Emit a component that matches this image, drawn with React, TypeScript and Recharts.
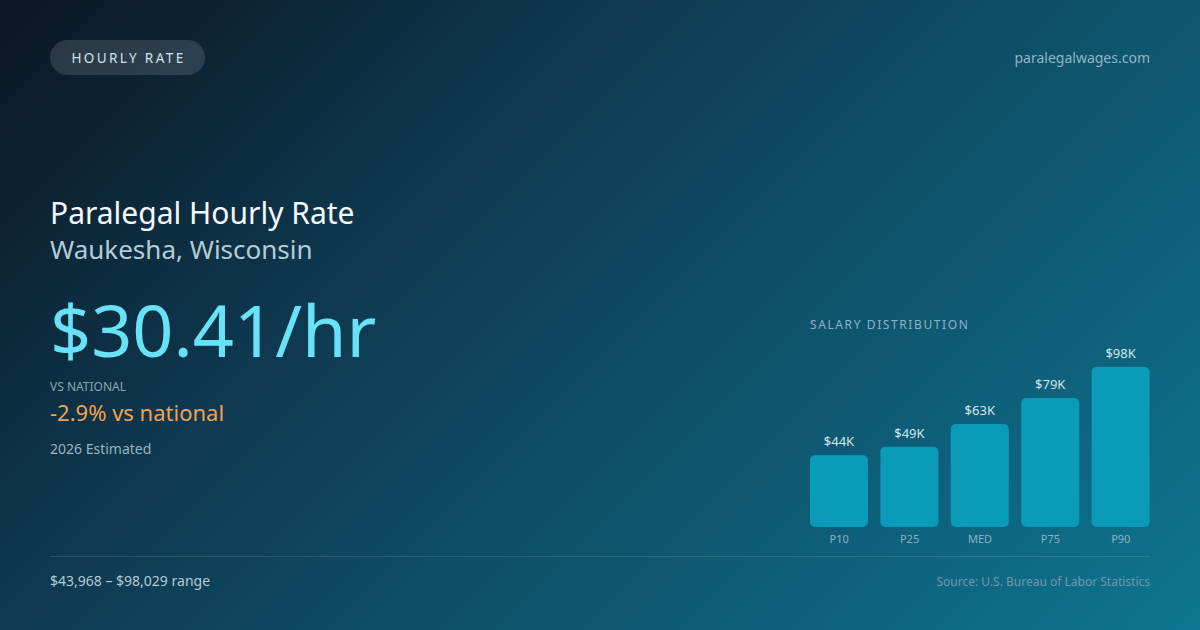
import React from "react";
import { BarChart, Bar, XAxis, YAxis, LabelList } from "recharts";

const percentiles = ["P10", "P25", "MED", "P75", "P90"];
const salaries = [43968, 49200, 63100, 79000, 98029];

const chartData = percentiles.map((p, i) => ({ name: p, value: salaries[i] }));

const FONT = "'Noto Sans', 'Open Sans', sans-serif";

const formatK = (v: number) => `$${Math.round(v / 1000)}K`;

function Text({
    x,
    y,
    size,
    color,
    children,
    right,
    spacing,
    weight,
}: {
    x: number;
    y: number;
    size: number;
    color: string;
    children: React.ReactNode;
    right?: boolean;
    spacing?: number;
    weight?: number;
}) {
    return (
        <div
            style={{
                position: "absolute",
                top: y - size * 0.68,
                left: right ? undefined : x,
                right: right ? 1200 - x : undefined,
                fontSize: size,
                lineHeight: `${size * 1.36}px`,
                color,
                letterSpacing: spacing,
                fontWeight: weight ?? 400,
                whiteSpace: "nowrap",
            }}
        >
            {children}
        </div>
    );
}

export default function App() {
    return (
        <div
            style={{
                position: "fixed",
                left: 0,
                top: 0,
                width: 1200,
                height: 630,
                overflow: "hidden",
                fontFamily: FONT,
                background:
                    "linear-gradient(135deg, #0b1624 0%, #0e3a51 35%, #0e5a74 70%, #0e7590 100%)",
            }}
        >
            {/* pill */}
            <div
                style={{
                    position: "absolute",
                    left: 50,
                    top: 40,
                    width: 155,
                    height: 35,
                    borderRadius: 18,
                    background: "rgba(255,255,255,0.13)",
                    color: "#d5e0e6",
                    fontSize: 13.5,
                    letterSpacing: 2.4,
                    display: "flex",
                    alignItems: "center",
                    justifyContent: "center",
                    paddingLeft: 2,
                    boxSizing: "border-box",
                }}
            >
                HOURLY RATE
            </div>
            <Text x={1150} y={58} size={14} color="#8fb5c6" right>
                paralegalwages.com
            </Text>

            <Text x={50} y={213} size={30} color="#f4f8fa">
                Paralegal Hourly Rate
            </Text>
            <Text x={50} y={250} size={26} color="#b3cdd8">
                Waukesha, Wisconsin
            </Text>
            <Text x={50} y={330} size={72} color="#67e2f7">
                $30.41/hr
            </Text>
            <Text x={50} y={387} size={12} color="#86a6b6">
                VS NATIONAL
            </Text>
            <Text x={50} y={413} size={22} color="#f0a354">
                -2.9% vs national
            </Text>
            <Text x={50} y={449} size={14} color="#98b3c1">
                2026 Estimated
            </Text>

            <Text x={810} y={325} size={12} color="#8db3c3" spacing={1.6}>
                SALARY DISTRIBUTION
            </Text>

            <div style={{ position: "absolute", left: 804, top: 340 }}>
                <BarChart
                    width={352}
                    height={217}
                    data={chartData}
                    margin={{ top: 27, right: 0, bottom: 0, left: 0 }}
                    barCategoryGap={6}
                >
                    <YAxis hide domain={[0, 98029]} />
                    <XAxis
                        dataKey="name"
                        height={30}
                        axisLine={false}
                        tickLine={false}
                        tick={{ fill: "#8ab2c3", fontSize: 11, fontFamily: FONT }}
                    />
                    <Bar
                        dataKey="value"
                        fill="#0a9bb8"
                        radius={[5, 5, 5, 5]}
                        isAnimationActive={false}
                    >
                        <LabelList
                            dataKey="value"
                            position="top"
                            offset={9}
                            formatter={(v: any) => formatK(Number(v))}
                            style={{ fill: "#d3e5ec", fontSize: 13, fontFamily: FONT }}
                        />
                    </Bar>
                </BarChart>
            </div>

            <div
                style={{
                    position: "absolute",
                    left: 50,
                    top: 556,
                    width: 1100,
                    height: 1,
                    background: "rgba(255,255,255,0.12)",
                }}
            />
            <Text x={50} y={581} size={14} color="#b5cad5">
                $43,968 – $98,029 range
            </Text>
            <Text x={1150} y={582} size={12} color="#6f98ab" right>
                Source: U.S. Bureau of Labor Statistics
            </Text>
        </div>
    );
}
